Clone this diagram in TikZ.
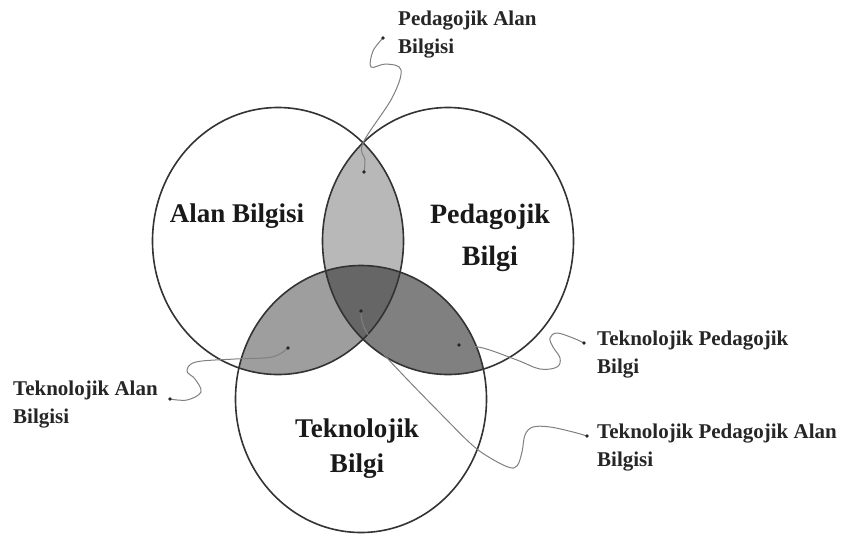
\documentclass[tikz,border=0pt]{standalone}
\usepackage{fontspec}
\setmainfont{Liberation Serif}
\begin{document}
\begin{tikzpicture}[x=1pt,y=-1pt,
  ring/.style={draw=black!80, line width=1.6pt},
  lbl/.style={font=\fontsize{21}{28}\selectfont\bfseries, align=left, anchor=north west, inner sep=0pt, text=black!85},
  big/.style={align=center, inner sep=0pt, text=black!90},
  wire/.style={draw=black!50, line width=1pt},
  pin/.style={fill=black!85},
  tone1/.style={fill=black!28},
  tone2/.style={fill=black!38},
  tone3/.style={fill=black!50},
  tone4/.style={fill=black!60}]
\useasboundingbox (0,0) rectangle (847,542);
\fill[white] (0,0) rectangle (847,542);
% circle centres
\coordinate (cL) at (278,241);
\coordinate (cR) at (448,241);
\coordinate (cB) at (361,399);
% fills
\begin{scope}
  \clip (cL) ellipse [x radius=125.5, y radius=133.5];
  \fill[tone1] (cR) ellipse [x radius=125.5, y radius=133.5];
  \fill[tone2] (cB) ellipse [x radius=125.5, y radius=133.5];
\end{scope}
\begin{scope}
  \clip (cR) ellipse [x radius=125.5, y radius=133.5];
  \fill[tone3] (cB) ellipse [x radius=125.5, y radius=133.5];
\end{scope}
\begin{scope}
  \clip (cL) ellipse [x radius=125.5, y radius=133.5];
  \clip (cR) ellipse [x radius=125.5, y radius=133.5];
  \fill[tone4] (cB) ellipse [x radius=125.5, y radius=133.5];
\end{scope}
% outlines
\draw[ring] (cL) ellipse [x radius=125.5, y radius=133.5];
\draw[ring] (cR) ellipse [x radius=125.5, y radius=133.5];
\draw[ring] (cB) ellipse [x radius=125.5, y radius=133.5];
% big labels
\node[big, font=\fontsize{27}{40}\selectfont\bfseries] (ab) at (237,216) {Alan Bilgisi};
\node[big, font=\fontsize{28}{42}\selectfont\bfseries] (pb) at (490,238) {Pedagojik\\Bilgi};
\node[big, font=\fontsize{27}{35}\selectfont\bfseries] (tb) at (357,449) {Teknolojik\\Bilgi};
% small labels
\node[lbl] (pab) at (398,11) {Pedagojik Alan\\Bilgisi};
\node[lbl] (tab) at (13,381) {Teknolojik Alan\\Bilgisi};
\node[lbl] (tpb) at (597,331) {Teknolojik Pedagojik\\Bilgi};
\node[lbl] (tpab) at (597,424) {Teknolojik Pedagojik Alan\\Bilgisi};
% connector ends
\coordinate (d1) at (383,38);   \coordinate (e1) at (364,172);
\coordinate (d2) at (170,399);  \coordinate (e2) at (288,348);
\coordinate (d3) at (584,343);  \coordinate (e3) at (459,345);
\coordinate (d4) at (587,436);  \coordinate (e4) at (361,311);
% connectors
\draw[wire] plot[smooth, tension=0.6] coordinates {(d1) (373,51) (371,67) (386,64) (401,70) (392,98) (363,143) (365,160) (e1)};
\draw[wire] plot[smooth, tension=0.6] coordinates {(d2) (187,400) (201,392) (195,379) (187,371) (196,362) (235,359) (272,357) (e2)};
\draw[wire] plot[smooth, tension=0.6] coordinates {(d3) (573,338) (557,333) (550,338) (553,347) (560,358) (557,367) (540,369) (517,360) (483,348) (e3)};
\draw[wire] plot[smooth, tension=0.6] coordinates {(d4) (573,432) (550,427) (533,427) (525,435) (522,452) (517,466) (508,467) (487,456) (470,443) (440,413) (405,377) (380,350) (367,333) (362,321) (e4)};
% dots
\foreach \p in {d1,d2,d3,d4,e1,e2,e3,e4} \fill[pin] (\p) circle (1.8);
\end{tikzpicture}
\end{document}
